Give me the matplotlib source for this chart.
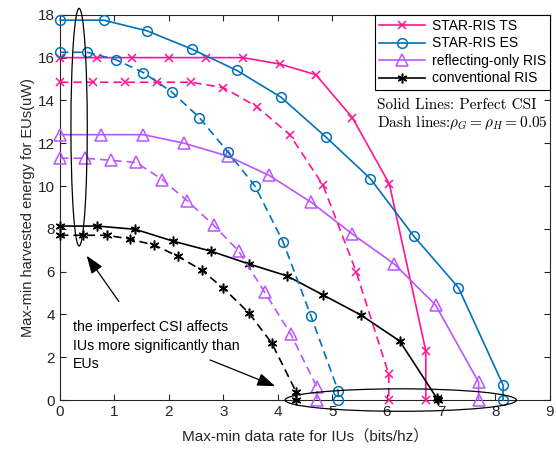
import numpy as np
import matplotlib
matplotlib.use('Agg')
import matplotlib.pyplot as plt
from matplotlib.patches import Ellipse

plt.rcParams['font.family'] = ['Liberation Sans', 'Noto Sans CJK SC', 'DejaVu Sans']
plt.rcParams['mathtext.fontset'] = 'cm'

# data
ts_x  = [0, 0.67, 1.33, 2.0, 2.69, 3.36, 4.04, 4.7, 5.37, 6.05, 6.72, 6.72]
ts_y  = [16.0, 16.0, 16.0, 16.0, 16.0, 16.0, 15.7, 15.2, 13.2, 10.1, 2.3, 0]
tsd_x = [0, 0.6, 1.2, 1.79, 2.41, 3.0, 3.62, 4.22, 4.83, 5.44, 6.04, 6.04]
tsd_y = [14.85, 14.85, 14.85, 14.85, 14.85, 14.6, 13.7, 12.4, 10.05, 6.0, 1.2, 0]

es_x  = [0, 0.8, 1.6, 2.42, 3.25, 4.06, 4.88, 5.7, 6.5, 7.32, 8.14, 8.14]
es_y  = [17.75, 17.75, 17.25, 16.4, 15.4, 14.15, 12.3, 10.35, 7.66, 5.25, 0.7, 0]
esd_x = [0, 0.5, 1.03, 1.53, 2.05, 2.56, 3.08, 3.58, 4.1, 4.61, 5.11, 5.11]
esd_y = [16.25, 16.25, 15.9, 15.3, 14.4, 13.2, 11.6, 10.0, 7.38, 3.93, 0.43, 0]

ro_x  = [0, 0.75, 1.53, 2.28, 3.08, 3.84, 4.61, 5.37, 6.14, 6.9, 7.69, 7.69]
ro_y  = [12.4, 12.4, 12.4, 12.0, 11.4, 10.5, 9.25, 7.76, 6.36, 4.44, 0.84, 0]
rod_x = [0, 0.46, 0.94, 1.4, 1.88, 2.34, 2.82, 3.28, 3.76, 4.24, 4.72, 4.72]
rod_y = [11.3, 11.3, 11.2, 11.1, 10.3, 9.3, 8.18, 6.96, 5.04, 3.08, 0.6, 0]

cv_x  = [0, 0.68, 1.38, 2.07, 2.77, 3.47, 4.17, 4.84, 5.53, 6.24, 6.92, 6.95]
cv_y  = [8.13, 8.13, 7.98, 7.43, 6.96, 6.36, 5.8, 4.9, 3.97, 2.76, 0.1, 0]
cvd_x = [0, 0.43, 0.86, 1.29, 1.73, 2.16, 2.6, 3.0, 3.47, 3.89, 4.34, 4.34]
cvd_y = [7.7, 7.7, 7.7, 7.52, 7.24, 6.73, 6.07, 5.23, 4.07, 2.66, 0.37, 0]

pink = '#FF1493'
blue = '#0072BD'
purp = '#BB55FF'
asterisk = (6, 2, 0)

fig = plt.figure(figsize=(5.56, 4.49), dpi=100)
ax = fig.add_axes([0.108, 0.109, 0.881, 0.858])

dsh = (0, (5, 3))
kw = dict(lw=1.2, clip_on=False, zorder=3)

ax.plot(ts_x, ts_y, color=pink, marker='x', ms=6, mew=1.1, label='STAR-RIS TS', **kw)
ax.plot(es_x, es_y, color=blue, marker='o', ms=7, mfc='none', mew=1.1, label='STAR-RIS ES', **kw)
ax.plot(ro_x, ro_y, color=purp, marker='^', ms=8, mfc='none', mew=1.1, label='reflecting-only RIS', **kw)
ax.plot(cv_x, cv_y, color='k', marker=asterisk, ms=7, mew=1.1, label='conventional RIS', **kw)

ax.plot(tsd_x, tsd_y, color=pink, marker='x', ms=6, mew=1.1, ls=dsh, **kw)
ax.plot(esd_x, esd_y, color=blue, marker='o', ms=7, mfc='none', mew=1.1, ls=dsh, **kw)
ax.plot(rod_x, rod_y, color=purp, marker='^', ms=8, mfc='none', mew=1.1, ls=dsh, **kw)
ax.plot(cvd_x, cvd_y, color='k', marker=asterisk, ms=7, mew=1.1, ls=dsh, **kw)

# ellipses
ax.add_patch(Ellipse((0.35, 12.75), 0.3, 11.1, fill=False, ec='k', lw=0.9, clip_on=False, zorder=4))
ax.add_patch(Ellipse((6.26, 0.0), 4.25, 1.05, fill=False, ec='k', lw=0.9, clip_on=False, zorder=4))

# arrows
aprops = dict(arrowstyle='-|>,head_length=1.1,head_width=0.4', color='k', lw=0.9)
ax.annotate('', xy=(0.46, 6.85), xytext=(1.11, 4.5), arrowprops=aprops)
ax.annotate('', xy=(4.0, 0.6), xytext=(2.71, 1.92), arrowprops=aprops)

ax.text(0.24, 1.5, 'the imperfect CSI affects\nIUs more significantly than\nEUs',
        fontsize=10.2, va='baseline', ha='left', linespacing=1.4)

ax.text(5.83, 13.6, 'Solid Lines: Perfect CSI', fontsize=11, va='baseline', family='cmr10')
ax.text(5.83, 12.76, r'Dash lines:$\rho_G=\rho_H=0.05$', fontsize=11, va='baseline', family='cmr10')

ax.set_xlim(0, 9)
ax.set_ylim(0, 18)
ax.set_xticks(range(0, 10))
ax.set_yticks(range(0, 19, 2))
ax.tick_params(direction='in', top=True, right=True, labelsize=11, length=4, width=0.8, colors='#262626')
for s in ax.spines.values():
    s.set_linewidth(0.8)
    s.set_color('#262626')

ax.set_xlabel('Max-min data rate for IUs（bits/hz）', fontsize=11, color='#262626', labelpad=7)
ax.set_ylabel('Max-min harvested energy for EUs(uW)', fontsize=10.5, color='#262626', labelpad=2)

leg = ax.legend(loc='upper right', fontsize=10, frameon=True, fancybox=False, edgecolor='k',
                framealpha=1, handlelength=3.3, labelspacing=0.25, borderpad=0.3,
                handletextpad=0.5, borderaxespad=0.0)
leg.get_frame().set_linewidth(0.8)

fig.savefig('out.png', dpi=100)
